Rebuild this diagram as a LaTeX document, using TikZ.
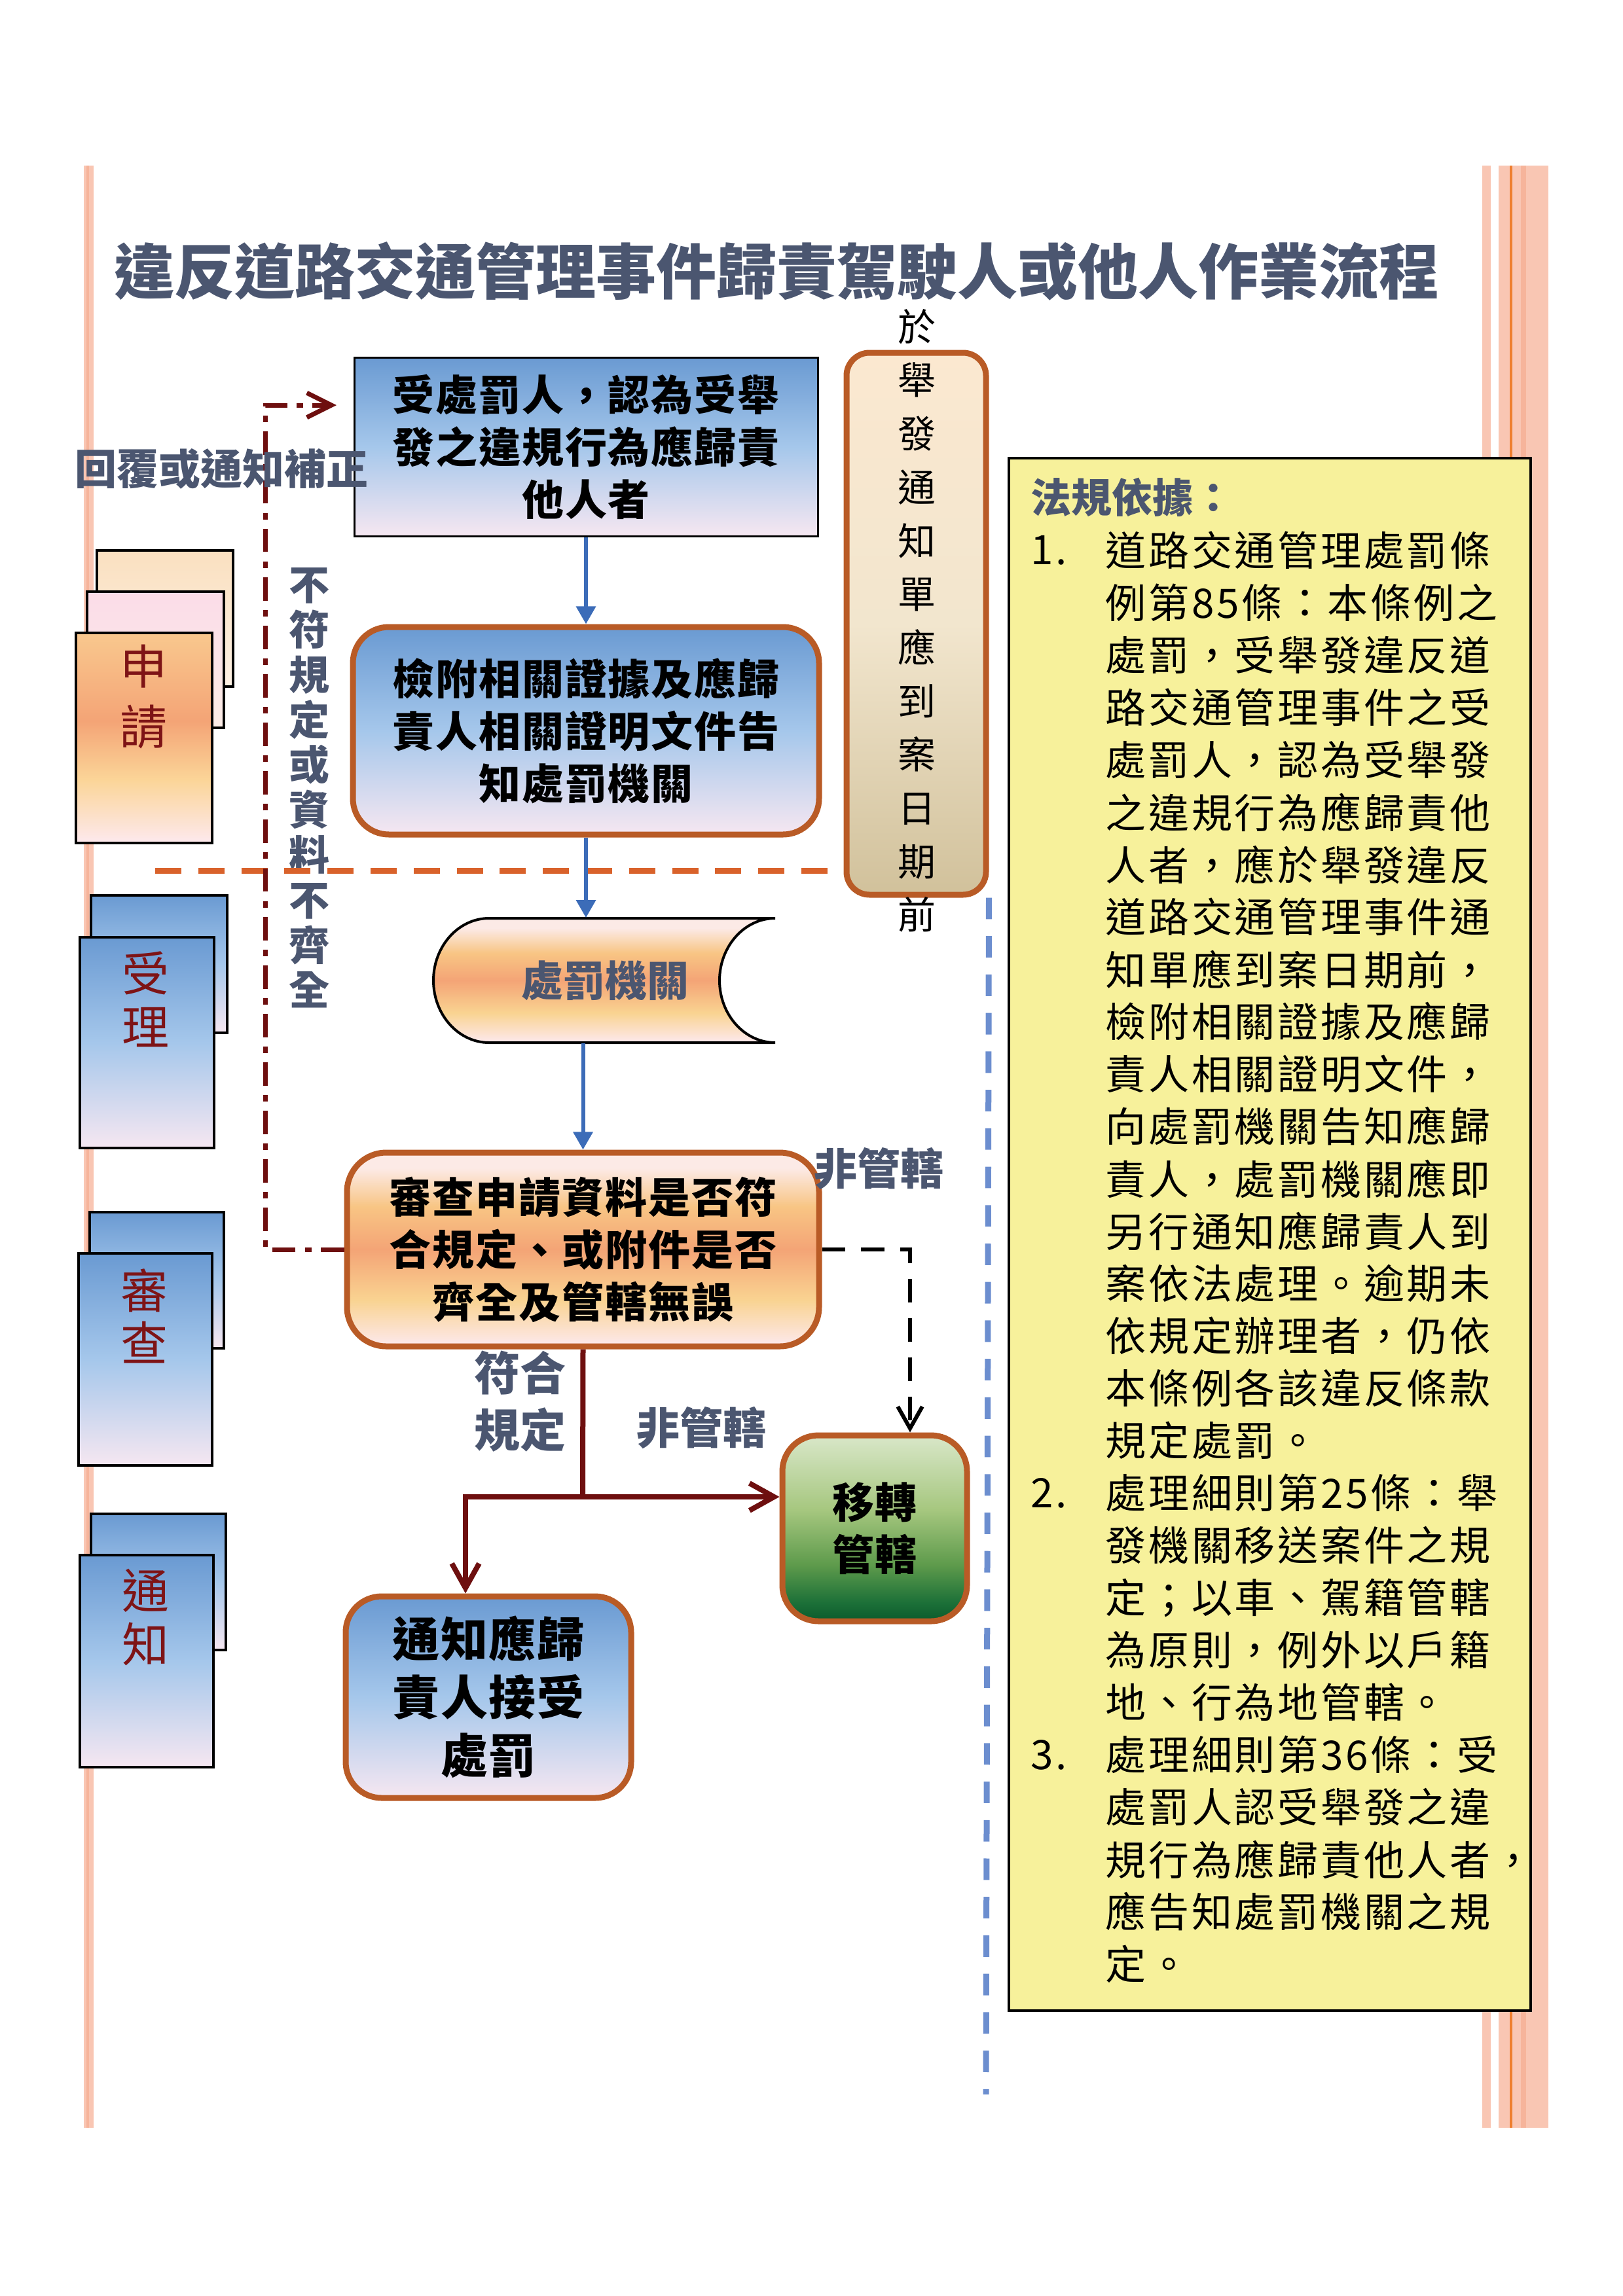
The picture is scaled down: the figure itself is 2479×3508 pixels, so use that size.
\documentclass[tikz,border=0pt]{standalone}
\usepackage{fontspec}
\setmainfont{Noto Sans CJK TC}
\usetikzlibrary{arrows.meta,positioning}

\newlength{\pxu}
\setlength{\pxu}{0.24013pt}
\newcommand*{\fsz}[2]{\fontsize{#1\pxu}{#2\pxu}\selectfont}

\definecolor{slate}{HTML}{4B5670}
\definecolor{rust}{HTML}{B95B26}
\definecolor{darkline}{HTML}{6E0F0F}
\definecolor{tabred}{HTML}{7E1416}
\definecolor{flowblue}{HTML}{3C6CB8}
\definecolor{dashorange}{HTML}{D9622B}
\definecolor{dashblue}{HTML}{6C8ECF}
\definecolor{lawyellow}{HTML}{F7F19B}
\definecolor{stripe}{HTML}{F9C6B3}
\definecolor{stripedark}{HTML}{F6B49B}
\definecolor{stripeorange}{HTML}{EE7F2F}
\definecolor{blueA}{HTML}{6A9AD2}
\definecolor{blueB}{HTML}{A5C7EB}
\definecolor{blueC}{HTML}{F6E7F1}
\definecolor{orA}{HTML}{FCEAE6}
\definecolor{orB}{HTML}{F8C584}
\definecolor{orC}{HTML}{F4A476}
\definecolor{orD}{HTML}{F9D391}
\definecolor{orE}{HTML}{FDE9EE}
\definecolor{applyA}{HTML}{FAE0C0}
\definecolor{applyB}{HTML}{FDF1E4}
\definecolor{applyC}{HTML}{FBDCE8}
\definecolor{applyD}{HTML}{FCEDE7}
\definecolor{frontA}{HTML}{F9C88E}
\definecolor{frontC}{HTML}{FBD598}
\definecolor{grA}{HTML}{D9E7C9}
\definecolor{grB}{HTML}{A6C77F}
\definecolor{grC}{HTML}{5D9A4B}
\definecolor{grD}{HTML}{1C7038}
\definecolor{grE}{HTML}{0B5A2C}
\definecolor{crA}{HTML}{FBE8D0}
\definecolor{crB}{HTML}{F2E6CE}
\definecolor{crC}{HTML}{D1C19B}

\pgfdeclareverticalshading{orangeshd}{100bp}{color(0bp)=(orE); color(25bp)=(orE); color(37bp)=(orD); color(50bp)=(orC); color(61bp)=(orB); color(71bp)=(orA); color(100bp)=(orA)}
\pgfdeclareverticalshading{applyshd}{100bp}{color(0bp)=(orE); color(25bp)=(orE); color(40bp)=(frontC); color(54bp)=(orC); color(75bp)=(frontA); color(100bp)=(frontA)}
\pgfdeclareverticalshading{greenshd}{100bp}{color(0bp)=(grE); color(25bp)=(grE); color(30bp)=(grD); color(40bp)=(grC); color(55bp)=(grB); color(75bp)=(grA); color(100bp)=(grA)}
\pgfdeclareverticalshading{creamshd}{100bp}{color(0bp)=(crC); color(25bp)=(crC); color(50bp)=(crB); color(75bp)=(crA); color(100bp)=(crA)}

\begin{document}
\begin{tikzpicture}
[
	x=\pxu, y=-\pxu,
	bluefill/.style={top color=blueA, bottom color=blueC, middle color=blueB},
	plainbox/.style={rectangle, draw=black, line width=3\pxu, bluefill, align=center, inner sep=0pt, font=\bfseries\fsz{64}{80}\addfontfeature{LetterSpace=3}},
	roundbox/.style={rectangle, rounded corners=55\pxu, draw=rust, line width=9\pxu, align=center, inner sep=0pt, font=\bfseries\fsz{64}{80}\addfontfeature{LetterSpace=3}},
	tab/.style={rectangle, draw=black, line width=4\pxu, anchor=north west, inner sep=0pt},
	tabtext/.style={text=tabred, align=center, inner sep=0pt},
	note/.style={text=slate, align=center, inner sep=0pt, font=\bfseries\fsz{64}{68}},
	lawline/.style={anchor=west, inner sep=0pt, font=\fsz{62}{80}\addfontfeature{LetterSpace=6}},
	flow/.style={flowblue, line width=6\pxu, -{Triangle[length=6.5pt,width=7pt]}},
	passarrow/.style={darkline, line width=8\pxu, line join=miter, -{Straight Barb[length=9pt,width=10pt]}},
	backarrow/.style={darkline, line width=7\pxu, dash pattern=on 8.6pt off 3.4pt on 2.4pt off 3.4pt, -{Straight Barb[length=9pt,width=9pt]}},
	movearrow/.style={black, line width=6\pxu, dash pattern=on 8.6pt off 5.8pt, -{Straight Barb[length=8pt,width=9pt]}}
]

	\useasboundingbox (0,0) rectangle (2479,3508);

	% page stripes
	\fill[stripe] (128,253) rectangle (143,3251);
	\fill[stripedark] (132,253) rectangle (136,3251);
	\fill[stripe] (2264,253) rectangle (2277,3251);
	\fill[stripe] (2289,253) rectangle (2365,3251);
	\fill[stripedark] (2323,253) rectangle (2331,3251);
	\fill[stripeorange] (2306,253) rectangle (2310,3251);

	% title
	\node[text=slate, font=\bfseries\fsz{92}{100}] (title) at (1186,414) {違反道路交通管理事件歸責駕駛人或他人作業流程};

	% legal basis
	\node[draw=black, fill=lawyellow, line width=4\pxu, minimum width=797\pxu, minimum height=2372\pxu, inner sep=0pt] (lawbox) at (1939.5,1885.5) {};
	\node[text=slate, anchor=west, inner sep=0pt, font=\bfseries\fsz{62}{70}] (lawhead) at (1574,760) {法規依據：};
	\node[lawline] (item1) at (1574,841) {1.};
	\node[lawline] (item2) at (1574,2281) {2.};
	\node[lawline] (item3) at (1574,2681) {3.};
	\foreach \ln [count=\i from 0] in {道路交通管理處罰條, 例第85條：本條例之, 處罰，受舉發違反道, 路交通管理事件之受, 處罰人，認為受舉發, 之違規行為應歸責他, 人者，應於舉發違反, 道路交通管理事件通, 知單應到案日期前，, 檢附相關證據及應歸, 責人相關證明文件，, 向處罰機關告知應歸, 責人，處罰機關應即, 另行通知應歸責人到, 案依法處理。逾期未, 依規定辦理者，仍依, 本條例各該違反條款, 規定處罰。, 處理細則第25條：舉, 發機關移送案件之規, 定；以車、駕籍管轄, 為原則，例外以戶籍, 地、行為地管轄。, 處理細則第36條：受, 處罰人認受舉發之違, 規行為應歸責他人者，, 應告知處罰機關之規, 定。}
		\node[lawline] (law\i) at (1688,{841+80*\i}) {\ln};

	% deadline
	\node[rectangle, rounded corners=35\pxu, draw=rust, line width=9\pxu, shade, shading=creamshd, minimum width=213\pxu, minimum height=828\pxu] (deadline) at (1399.5,953) {};
	\node[align=center, inner sep=0pt, font=\fsz{58}{81.7}] (deadlinetxt) at (1400,948.5) {於\\舉\\發\\通\\知\\單\\應\\到\\案\\日\\期\\前};

	% left tabs
	\node[tab, top color=applyA, bottom color=applyB, minimum width=208\pxu, minimum height=208\pxu] (apply3) at (146,839) {};
	\node[tab, top color=applyC, bottom color=applyD, minimum width=209\pxu, minimum height=208\pxu] (apply2) at (131,902) {};
	\node[tab, shade, shading=applyshd, minimum width=208\pxu, minimum height=321\pxu] (apply1) at (114,965) {};
	\node[tabtext, font=\fsz{72}{92}] (applytxt) at (219,1065) {申\\請};

	\node[tab, bluefill, minimum width=208\pxu, minimum height=210\pxu] (accept2) at (137,1366) {};
	\node[tab, bluefill, minimum width=205\pxu, minimum height=322\pxu] (accept1) at (120,1430) {};
	\node[tabtext, font=\fsz{72}{82}] (accepttxt) at (222,1527) {受\\理};

	\node[tab, bluefill, minimum width=205\pxu, minimum height=208\pxu] (check2) at (135,1850) {};
	\node[tab, bluefill, minimum width=204\pxu, minimum height=324\pxu] (check1) at (118,1913) {};
	\node[tabtext, font=\fsz{72}{80}] (checktxt) at (220,2011) {審\\查};

	\node[tab, bluefill, minimum width=206\pxu, minimum height=208\pxu] (inform2) at (137,2311) {};
	\node[tab, bluefill, minimum width=204\pxu, minimum height=324\pxu] (inform1) at (120,2374) {};
	\node[tabtext, font=\fsz{72}{82}] (informtxt) at (222,2471) {通\\知};

	% side notes
	\node[note, font=\bfseries\fsz{62}{68.8}] (notmeet) at (472,1204) {不\\符\\規\\定\\或\\資\\料\\不\\齊\\全};

	% time limit lines
	\coordinate (ostart) at (237,1330);
	\coordinate (blueend) at (1506,3200);
	\draw[dashorange, line width=9\pxu, dash pattern=on 9.6pt off 6.2pt] (ostart) -- (ostart -| deadline.west);
	\draw[dashblue, line width=9\pxu, dash pattern=on 7.9pt off 6.2pt] (deadline.south east) -- (blueend);

	% flow boxes
	\node[plainbox, minimum width=708\pxu, minimum height=273\pxu] (claim) at (895,682.5) {受處罰人，認為受舉\\發之違規行為應歸責\\他人者};
	\node[roundbox, bluefill, minimum width=712\pxu, minimum height=317\pxu] (evidence) at (895,1116.5) {檢附相關證據及應歸\\責人相關證明文件告\\知處罰機關};
	\shade[shading=orangeshd, draw=black, line width=4\pxu] (747,1403) -- (1184,1403) .. controls (1137,1403) and (1099,1446) .. (1099,1498) .. controls (1099,1550) and (1137,1593) .. (1184,1593) -- (747,1593) .. controls (700,1593) and (662,1550) .. (662,1498) .. controls (662,1446) and (700,1403) .. (747,1403) -- cycle;
	\node[note, minimum width=524\pxu, minimum height=190\pxu] (agency) at (924,1498) {處罰機關};
	\node[roundbox, shade, shading=orangeshd, minimum width=721\pxu, minimum height=296\pxu, rounded corners=60\pxu] (review) at (890.5,1909) {審查申請資料是否符\\合規定、或附件是否\\齊全及管轄無誤};
	\node[roundbox, shade, shading=greenshd, minimum width=282\pxu, minimum height=284\pxu] (transfer) at (1336,2335) {移轉\\管轄};
	\node[roundbox, bluefill, minimum width=436\pxu, minimum height=308\pxu, font=\bfseries\fsz{72}{89}\addfontfeature{LetterSpace=2}] (notify) at (746,2593) {通知應歸\\責人接受\\處罰};

	% main flow
	\draw[flow] (claim.south) -- (evidence.north);
	\draw[flow] (evidence.south) -- (evidence.south |- agency.north);
	\draw[flow] (agency.south -| review.north) -- (review.north);

	% non jurisdiction
	\coordinate (drop) at ([xshift=54\pxu]transfer.north);
	\draw[movearrow] (review.east) -| (drop);

	% meets the rules
	\coordinate (split) at (890,2287);
	\coordinate (bend) at (711,2287);
	\draw[darkline, line width=8\pxu] (review.south) -- (split);
	\draw[passarrow] (split) -- (split -| transfer.west);
	\draw[passarrow] (split) -- (bend) -- (bend |- notify.north);

	% back for correction
	\coordinate (looptop) at (405,619);
	\coordinate (loopend) at (514,619);
	\draw[backarrow] (review.west) -| (looptop) -- (loopend);

	% labels
	\node[note] (reply) at (338,716) {回覆或通知補正};
	\node[note, font=\bfseries\fsz{66}{70}] (nojur) at (1342,1785) {非管轄};
	\node[note, font=\bfseries\fsz{66}{70}] (nojurb) at (1071,2181) {非管轄};
	\node[note, font=\bfseries\fsz{70}{87}] (meet) at (794,2141) {符合\\規定};

\end{tikzpicture}
\end{document}
